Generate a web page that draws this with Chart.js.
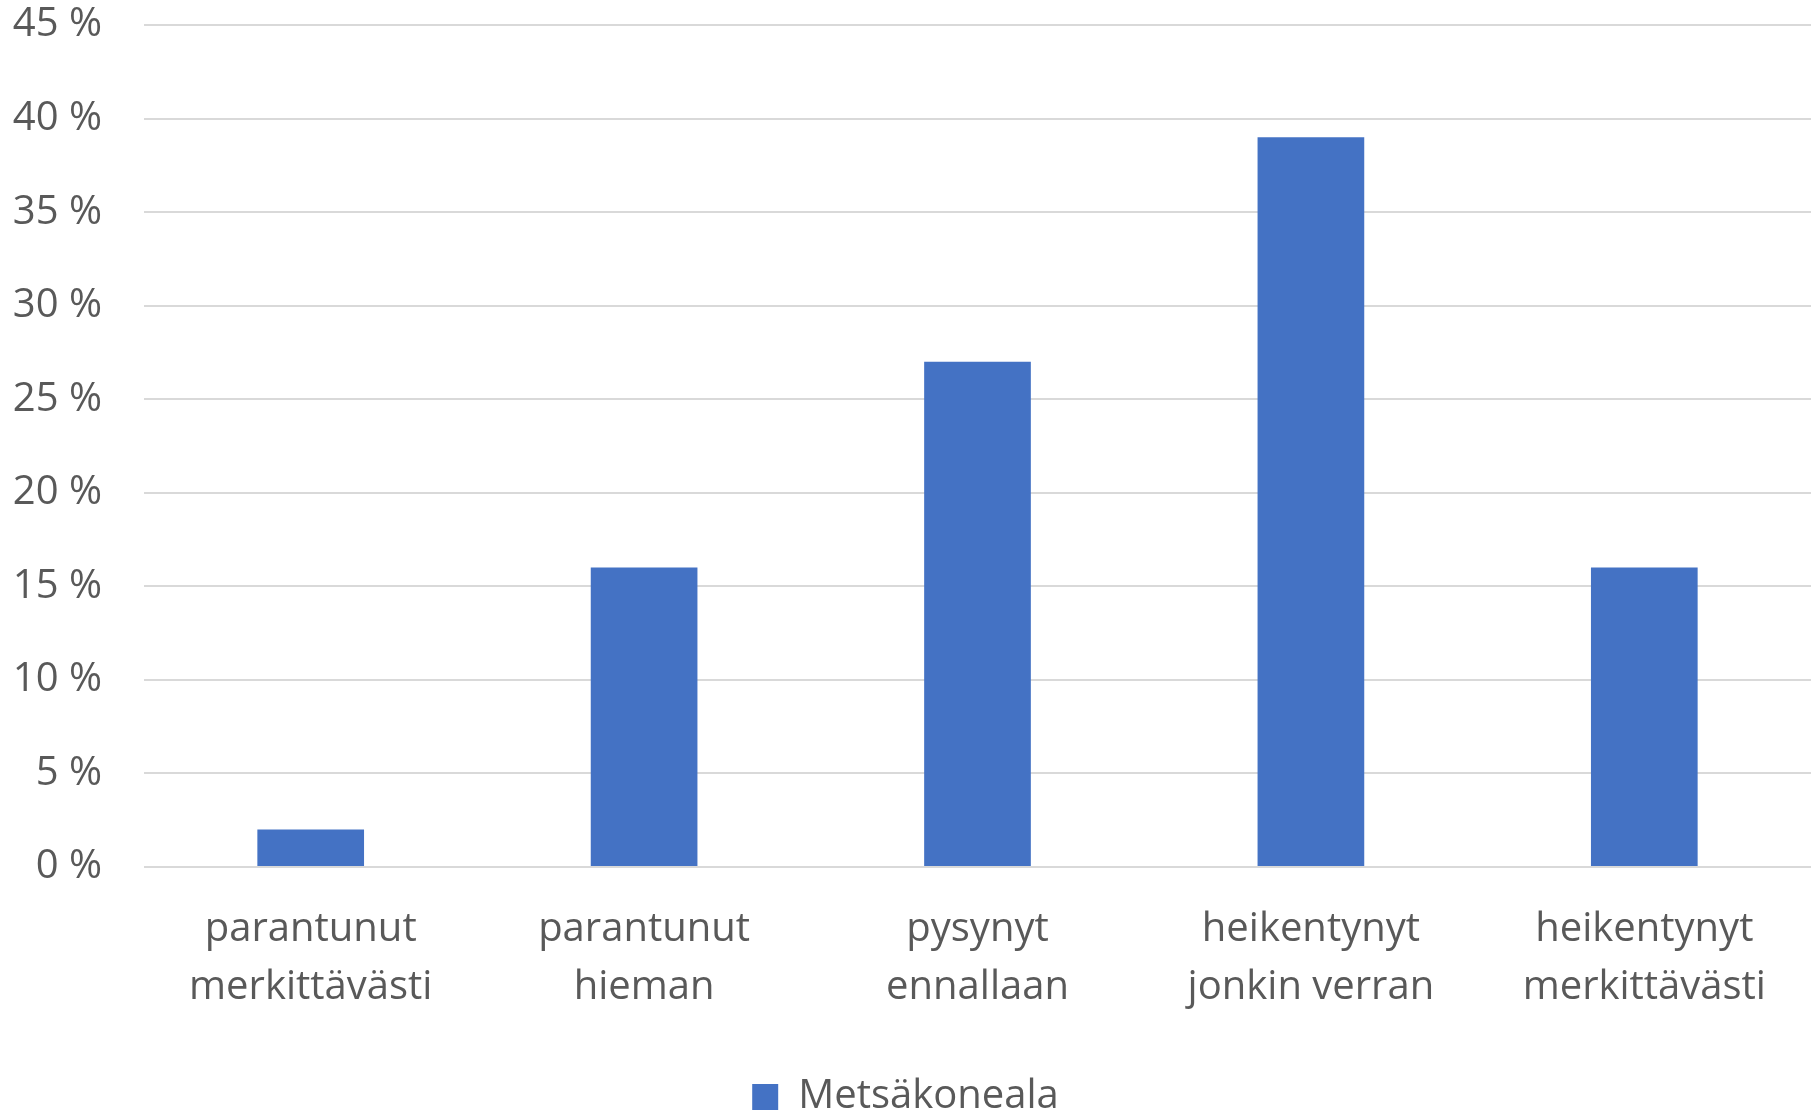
<!DOCTYPE html>
<html>
<head>
<meta charset="utf-8">
<script src="https://cdn.jsdelivr.net/npm/chart.js@4"></script>
<style>
  html, body { margin: 0; padding: 0; background: #fff; }
  #wrap { width: 1817px; height: 1111px; }
</style>
</head>
<body>
<div id="wrap"><canvas id="chart"></canvas></div>
<script>
// data
const categories = [
    ['parantunut', 'merkittävästi'],
    ['parantunut', 'hieman'],
    ['pysynyt', 'ennallaan'],
    ['heikentynyt', 'jonkin verran'],
    ['heikentynyt', 'merkittävästi']
];
const seriesName = 'Metsäkoneala';
const values = [2, 16, 27, 39, 16];
const yTicks = [0, 5, 10, 15, 20, 25, 30, 35, 40, 45];

const textColor = '#595959';
const font = { family: "'Open Sans', sans-serif", size: 40, lineHeight: 1.45 };

Chart.defaults.color = textColor;

const ctx = document.getElementById('chart');
new Chart(ctx, {
    type: 'bar',
    data: {
        labels: categories,
        datasets: [{
            label: seriesName,
            data: values,
            backgroundColor: '#4472C4',
            borderWidth: 0,
            barPercentage: 0.32,
            categoryPercentage: 1.0
        }]
    },
    options: {
        responsive: true,
        maintainAspectRatio: false,
        animation: false,
        layout: { padding: { top: 0, right: 6, left: 0, bottom: 0 } },
        plugins: {
            tooltip: { enabled: false },
            legend: {
                position: 'bottom',
                maxHeight: 34,
                labels: {
                    font: font,
                    color: textColor,
                    boxWidth: 26,
                    boxHeight: 26,
                    padding: 0
                }
            }
        },
        scales: {
            x: {
                grid: { display: false, drawTicks: false },
                border: { display: false },
                ticks: { font: font, color: textColor, padding: 34, maxRotation: 0, autoSkip: false },
                afterFit: scale => { scale.height = 1111 - 34 - 867; }
            },
            y: {
                min: 0,
                max: 45,
                afterBuildTicks: scale => { scale.ticks = yTicks.map(v => ({ value: v })); },
                grid: { color: '#D9D9D9', lineWidth: 2, drawTicks: false },
                border: { display: false },
                ticks: {
                    font: font,
                    color: textColor,
                    padding: 42,
                    callback: v => v + ' %'
                },
                afterFit: scale => {
                    scale.width = 144;
                    scale.paddingTop = 25;
                    scale.paddingBottom = 0;
                }
            }
        }
    }
});
</script>
</body>
</html>
